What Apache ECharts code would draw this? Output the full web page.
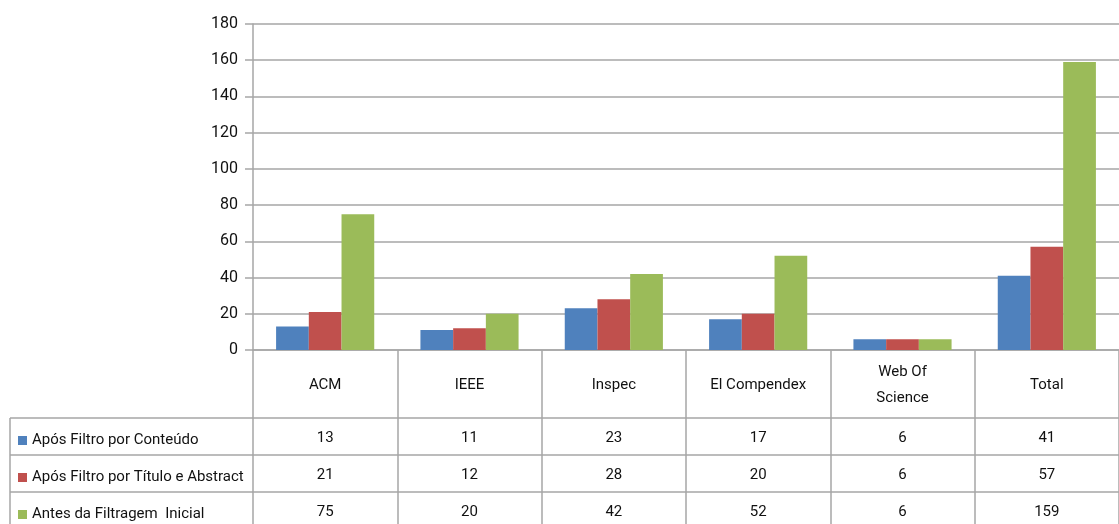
<!DOCTYPE html>
<html>
<head>
<meta charset="utf-8">
<script src="https://cdn.jsdelivr.net/npm/echarts@6/dist/echarts.min.js"></script>
<style>
  html, body { margin: 0; padding: 0; background: #fff; }
  #chart { width: 1119px; height: 524px; }
</style>
</head>
<body>
<div id="chart"></div>
<script>
const categories = ['ACM', 'IEEE', 'Inspec', 'El Compendex', 'Web Of\nScience', 'Total']
const seriesNames = ['Após Filtro por Conteúdo', 'Após Filtro por Título e Abstract', 'Antes da Filtragem  Inicial']
const conteudo = [13, 11, 23, 17, 6, 41]
const tituloAbstract = [21, 12, 28, 20, 6, 57]
const antesFiltragem = [75, 20, 42, 52, 6, 159]
const yTicks = { min: 0, max: 180, interval: 20 }

const colors = ['#4f81bd', '#c0504d', '#9bbb59']
const rows = [conteudo, tituloAbstract, antesFiltragem]
const font = "'Roboto', sans-serif"
const lineColor = '#a6a6a6'

// grid geometry (table below plot)
const plotLeft = 253
const plotTop = 24
const plotBottom = 350
const headerH = 68
const rowH = 37

const chart = echarts.init(document.getElementById('chart'))

const xAxes = [{
  type: 'category',
  data: categories,
  axisLine: { lineStyle: { color: lineColor, width: 1.5 } },
  axisTick: { show: true, alignWithLabel: false, length: 524 - plotBottom, interval: 0, lineStyle: { color: lineColor, width: 1.5 } },
  axisLabel: {
    interval: 0,
    margin: headerH / 2 + 1,
    verticalAlign: 'middle',
    fontSize: 15,
    lineHeight: 26,
    color: '#111',
    fontFamily: font
  }
}]
rows.forEach(function(vals, r) {
  xAxes.push({
    type: 'category',
    data: categories,
    position: 'bottom',
    offset: headerH + r * rowH,
    axisLine: { show: true, lineStyle: { color: lineColor, width: 1.5 } },
    axisTick: { show: false },
    axisLabel: {
      interval: 0,
      margin: rowH / 2 + 2,
      verticalAlign: 'middle',
      fontSize: 15,
      color: '#111',
      fontFamily: font,
      formatter: function(v, i) { return String(vals[i]) }
    }
  })
})

const tableLines = []
for (let r = 0; r < 3; r++) {
  const y = plotBottom + headerH + r * rowH
  tableLines.push({
    type: 'line',
    shape: { x1: 10, y1: y, x2: plotLeft, y2: y },
    style: { stroke: lineColor, lineWidth: 1.5 }
  })
}
tableLines.push({
  type: 'line',
  shape: { x1: 10, y1: plotBottom + headerH, x2: 10, y2: 524 },
  style: { stroke: lineColor, lineWidth: 1.5 }
})

// one legend per table row, so each key sits beside its values
const legends = seriesNames.map(function(name, r) {
  return {
    orient: 'vertical',
    left: 13,
    top: plotBottom + headerH + r * rowH + 10,
    itemWidth: 9,
    itemHeight: 9,
    icon: 'rect',
    textStyle: { fontSize: 15, color: '#111', fontFamily: font },
    data: [name]
  }
})

const option = {
  animation: false,
  color: colors,
  textStyle: { fontFamily: font },
  grid: {
    left: plotLeft,
    right: -10,
    top: plotTop,
    bottom: 524 - plotBottom,
    containLabel: false
  },
  legend: legends,
  xAxis: xAxes,
  yAxis: {
    type: 'value',
    min: yTicks.min,
    max: yTicks.max,
    interval: yTicks.interval,
    axisLine: { show: true, lineStyle: { color: lineColor, width: 1.5 } },
    axisTick: { show: true, length: 8, lineStyle: { color: lineColor, width: 1.5 } },
    splitLine: { lineStyle: { color: lineColor, width: 1.5 } },
    axisLabel: { fontSize: 16, color: '#111', margin: 15, fontFamily: font }
  },
  graphic: tableLines,
  series: rows.map(function(vals, i) {
    return {
      name: seriesNames[i],
      type: 'bar',
      xAxisIndex: 0,
      barGap: '0%',
      barCategoryGap: '32%',
      data: vals
    }
  })
}
chart.setOption(option)
</script>
</body>
</html>
